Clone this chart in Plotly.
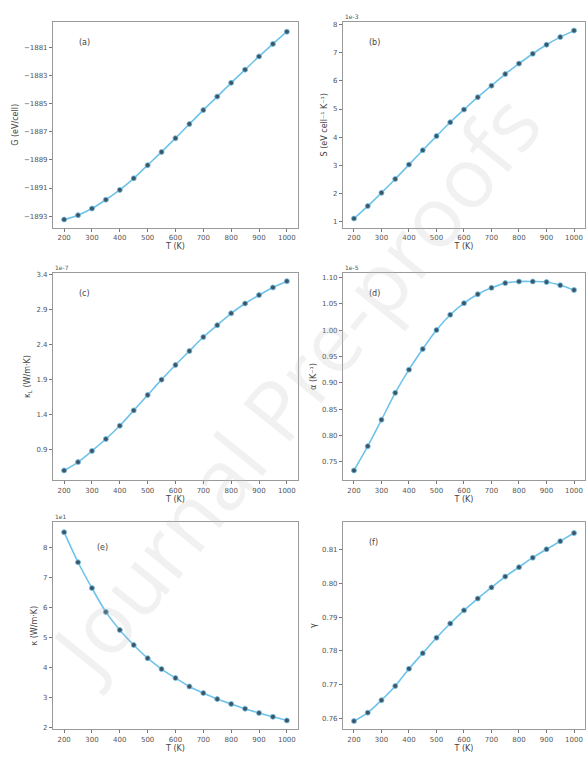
import plotly.graph_objects as go

T = [200, 250, 300, 350, 400, 450, 500, 550, 600, 650, 700, 750, 800, 850, 900, 950, 1000]

G = [-1893.24, -1892.93, -1892.46, -1891.83, -1891.13, -1890.31, -1889.37, -1888.43,
     -1887.45, -1886.44, -1885.45, -1884.49, -1883.51, -1882.57, -1881.63, -1880.74, -1879.87]
S = [1.12, 1.56, 2.03, 2.52, 3.03, 3.54, 4.04, 4.53, 4.98, 5.42, 5.83, 6.24, 6.61, 6.96, 7.28, 7.55, 7.78]
KL = [0.60, 0.72, 0.88, 1.05, 1.24, 1.46, 1.68, 1.90, 2.11, 2.31, 2.51, 2.68, 2.85, 2.99, 3.11, 3.22, 3.31]
ALPHA = [0.734, 0.780, 0.830, 0.881, 0.925, 0.964, 1.000, 1.029, 1.051, 1.068, 1.080, 1.089, 1.092,
         1.092, 1.091, 1.085, 1.076]
KAPPA = [8.50, 7.50, 6.64, 5.85, 5.25, 4.75, 4.31, 3.95, 3.65, 3.37, 3.15, 2.95, 2.79, 2.63, 2.49, 2.36, 2.24]
GAMMA = [0.7592, 0.7617, 0.7654, 0.7696, 0.7747, 0.7793, 0.7839, 0.7881, 0.7920, 0.7955, 0.7988,
         0.8020, 0.8048, 0.8076, 0.8101, 0.8125, 0.8149]

X_TICKS = [200, 300, 400, 500, 600, 700, 800, 900, 1000]

panels = [
    dict(y=G, label="(a)", ytitle="G (eV/cell)", ticks=[-1893, -1891, -1889, -1887, -1885, -1883, -1881],
         yr=[-1893.83, -1879.17], offset="", fmt="d"),
    dict(y=S, label="(b)", ytitle="S (eV cell⁻¹ K⁻¹)", ticks=[1, 2, 3, 4, 5, 6, 7, 8],
         yr=[0.79, 8.09], offset="1e-3", fmt="d"),
    dict(y=KL, label="(c)", ytitle="κ<sub>L</sub> (W/m·K)", ticks=[0.9, 1.4, 1.9, 2.4, 2.9, 3.4],
         yr=[0.457, 3.433], offset="1e-7", fmt=".1f"),
    dict(y=ALPHA, label="(d)", ytitle="α (K⁻¹)", ticks=[0.75, 0.80, 0.85, 0.90, 0.95, 1.00, 1.05, 1.10],
         yr=[0.715, 1.109], offset="1e-5", fmt=".2f"),
    dict(y=KAPPA, label="(e)", ytitle="κ (W/m·K)", ticks=[2, 3, 4, 5, 6, 7, 8],
         yr=[1.95, 8.83], offset="1e1", fmt="d"),
    dict(y=GAMMA, label="(f)", ytitle="γ", ticks=[0.76, 0.77, 0.78, 0.79, 0.80, 0.81],
         yr=[0.7568, 0.8181], offset="", fmt=".2f"),
]

xdoms = [[0.0904, 0.5085], [0.5853, 0.9983]]
ydoms = [[0.700, 0.9724], [0.3658, 0.6408], [0.0368, 0.3105]]

fig = go.Figure()
annotations = []
for i, p in enumerate(panels):
    r, c = divmod(i, 2)
    n = i + 1
    xa = "x" if n == 1 else f"x{n}"
    ya = "y" if n == 1 else f"y{n}"
    fig.add_trace(go.Scatter(x=T, y=p["y"], mode="lines", line=dict(color="#6ec3ea", width=1.6,
                             shape="spline"), xaxis=xa, yaxis=ya, showlegend=False, hoverinfo="skip"))
    fig.add_trace(go.Scatter(x=T, y=p["y"], mode="markers",
                             marker=dict(color="#3d5566", size=5, line=dict(color="#6ec3ea", width=0.8)),
                             xaxis=xa, yaxis=ya, showlegend=False))
    axis_common = dict(showline=True, linecolor="#9a9a9a", linewidth=1, mirror=True, showgrid=False,
                       zeroline=False, ticks="outside", ticklen=3, tickcolor="#777",
                       tickfont=dict(size=7, color="#555", family="DejaVu Sans"))
    fig.layout[("xaxis" if n == 1 else f"xaxis{n}")] = dict(
        domain=xdoms[c], anchor=ya, range=[160, 1040], tickvals=X_TICKS,
        title=dict(text="T (K)", font=dict(size=8, color="#444", family="DejaVu Sans"), standoff=2),
        **axis_common)
    fig.layout[("yaxis" if n == 1 else f"yaxis{n}")] = dict(
        domain=ydoms[r], anchor=xa, range=p["yr"], tickvals=p["ticks"], tickformat=p["fmt"],
        title=dict(text=p["ytitle"], font=dict(size=8, color="#444", family="DejaVu Sans"), standoff=4),
        **axis_common)
    xref = "x domain" if n == 1 else f"x{n} domain"
    yref = "y domain" if n == 1 else f"y{n} domain"
    lx = 0.17 if p["label"] == "(e)" else 0.1
    ly = 0.88 if p["label"] == "(e)" else 0.9
    annotations.append(dict(text=p["label"], x=lx, y=ly, xref=xref, yref=yref, showarrow=False,
                            xanchor="left", yanchor="middle", font=dict(size=8, color="#444")))
    if p["offset"]:
        annotations.append(dict(text=p["offset"], x=0, y=1.0, xref=xref, yref=yref, showarrow=False,
                                xanchor="left", yanchor="bottom", font=dict(size=6, color="#555")))

annotations.append(dict(text="Journal Pre-proofs", x=0.5, y=0.49, xref="paper", yref="paper",
                        showarrow=False, textangle=-51,
                        font=dict(size=84, color="rgba(190,190,190,0.22)", family="Open Sans")))

fig.update_layout(width=586, height=760, margin=dict(l=0, r=0, t=0, b=0),
                  paper_bgcolor="white", plot_bgcolor="white", annotations=annotations,
                  font=dict(family="DejaVu Sans"))

fig.write_html("out.html")
